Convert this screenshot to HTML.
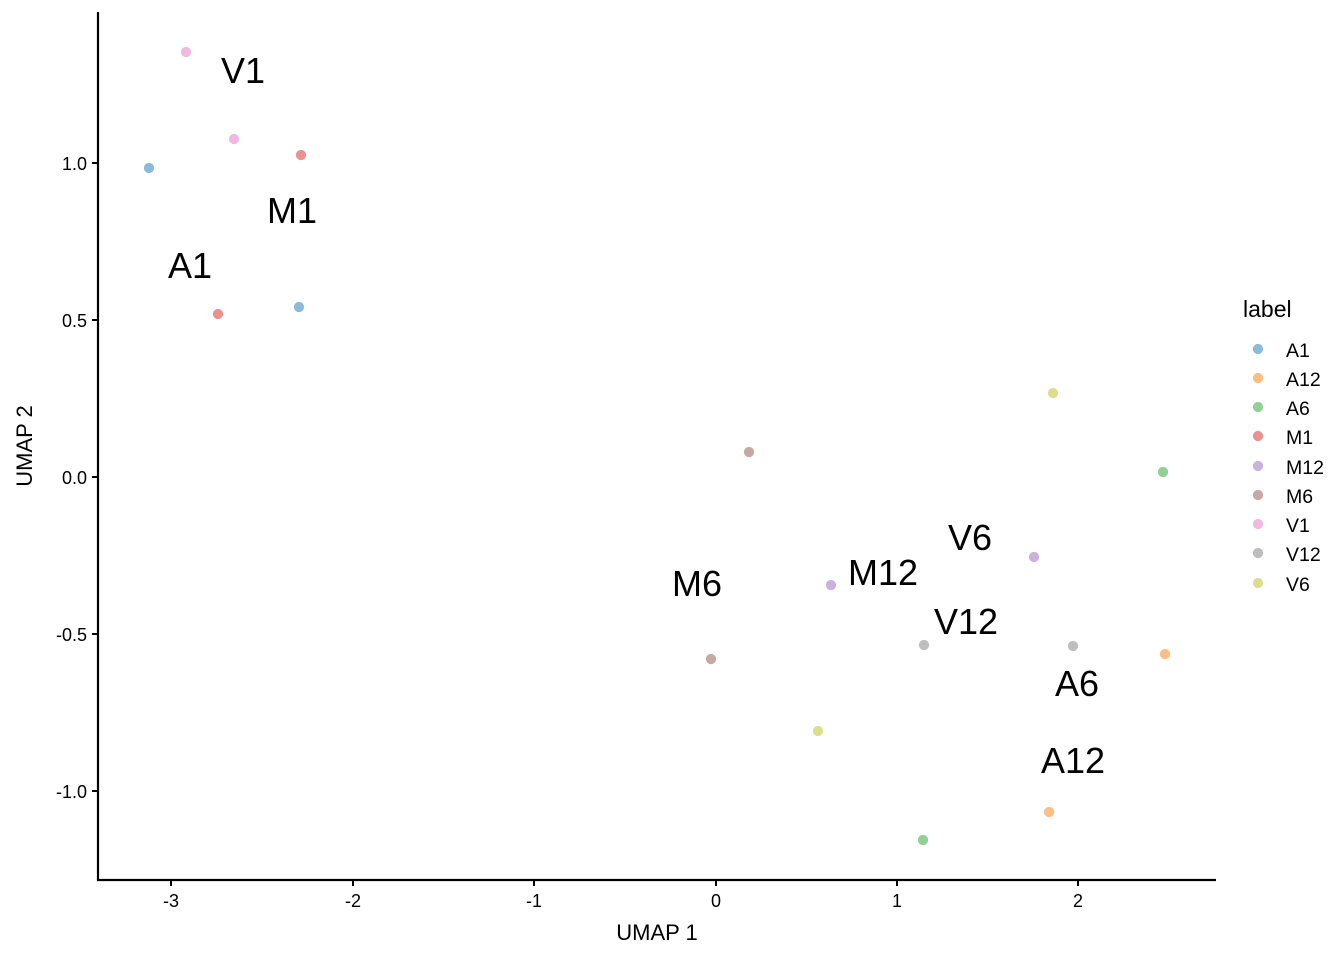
<!DOCTYPE html><html><head><style>body{margin:0;background:#fff}svg{font-family:"Liberation Sans",sans-serif}</style></head><body>
<svg width="1344" height="960" xmlns="http://www.w3.org/2000/svg">
<rect width="1344" height="960" fill="#fff"/>
<g stroke="#000" stroke-width="2.2" fill="none"><path d="M98,12V880H1216"/></g>
<g stroke="#000" stroke-width="2"><path d="M171,880v6M353,880v6M534,880v6M716,880v6M897,880v6M1078,880v6M92,163h6M92,320h6M92,477h6M92,634h6M92,791h6"/></g>
<g font-size="18" fill="#000" text-anchor="middle"><text x="171" y="907">-3</text><text x="353" y="907">-2</text><text x="534" y="907">-1</text><text x="716" y="907">0</text><text x="897" y="907">1</text><text x="1078" y="907">2</text></g>
<g font-size="18" fill="#000" text-anchor="end"><text x="87" y="170">1.0</text><text x="87" y="327">0.5</text><text x="87" y="484">0.0</text><text x="87" y="641">-0.5</text><text x="87" y="798">-1.0</text></g>
<text x="657" y="940" font-size="22" text-anchor="middle">UMAP 1</text>
<text transform="translate(32,446) rotate(-90)" font-size="22" text-anchor="middle">UMAP 2</text>
<g opacity="0.5" stroke-width="1.3">
<g stroke="#1f77b4"><circle cx="149" cy="168" r="4.5" fill="#1f77b4"/><circle cx="299" cy="307" r="4.5" fill="#1f77b4"/></g>
<g stroke="#ff7f0e"><circle cx="1049" cy="812" r="4.5" fill="#ff7f0e"/><circle cx="1165" cy="654" r="4.5" fill="#ff7f0e"/></g>
<g stroke="#2ca02c"><circle cx="923" cy="840" r="4.5" fill="#2ca02c"/><circle cx="1163" cy="472" r="4.5" fill="#2ca02c"/></g>
<g stroke="#d62728"><circle cx="301" cy="155" r="4.5" fill="#d62728"/><circle cx="218" cy="314" r="4.5" fill="#d62728"/></g>
<g stroke="#9467bd"><circle cx="831" cy="585" r="4.5" fill="#9467bd"/><circle cx="1034" cy="557" r="4.5" fill="#9467bd"/></g>
<g stroke="#8c564b"><circle cx="749" cy="452" r="4.5" fill="#8c564b"/><circle cx="711" cy="659" r="4.5" fill="#8c564b"/></g>
<g stroke="#e377c2"><circle cx="186" cy="52" r="4.5" fill="#e377c2"/><circle cx="234" cy="139" r="4.5" fill="#e377c2"/></g>
<g stroke="#7f7f7f"><circle cx="924" cy="645" r="4.5" fill="#7f7f7f"/><circle cx="1073" cy="646" r="4.5" fill="#7f7f7f"/></g>
<g stroke="#bcbd22"><circle cx="1053" cy="393" r="4.5" fill="#bcbd22"/><circle cx="818" cy="731" r="4.5" fill="#bcbd22"/></g>
</g>
<g font-size="36" fill="#000" text-anchor="middle">
<text x="243" y="83">V1</text><text x="292" y="223">M1</text><text x="190" y="278">A1</text>
<text x="970" y="550">V6</text><text x="883" y="585">M12</text><text x="697" y="596">M6</text>
<text x="966" y="634">V12</text><text x="1077" y="696">A6</text><text x="1073" y="773">A12</text>
</g>
<text x="1243" y="317" font-size="23">label</text>
<g opacity="0.5" stroke-width="1.3">
<circle cx="1258" cy="349" r="4.5" fill="#1f77b4" stroke="#1f77b4"/><circle cx="1258" cy="378" r="4.5" fill="#ff7f0e" stroke="#ff7f0e"/><circle cx="1258" cy="407" r="4.5" fill="#2ca02c" stroke="#2ca02c"/><circle cx="1258" cy="436" r="4.5" fill="#d62728" stroke="#d62728"/><circle cx="1258" cy="466" r="4.5" fill="#9467bd" stroke="#9467bd"/><circle cx="1258" cy="495" r="4.5" fill="#8c564b" stroke="#8c564b"/><circle cx="1258" cy="524" r="4.5" fill="#e377c2" stroke="#e377c2"/><circle cx="1258" cy="553" r="4.5" fill="#7f7f7f" stroke="#7f7f7f"/><circle cx="1258" cy="583" r="4.5" fill="#bcbd22" stroke="#bcbd22"/>
</g>
<g font-size="19.5"><text x="1286" y="357">A1</text><text x="1286" y="386">A12</text><text x="1286" y="415">A6</text><text x="1286" y="444">M1</text><text x="1286" y="474">M12</text><text x="1286" y="503">M6</text><text x="1286" y="532">V1</text><text x="1286" y="561">V12</text><text x="1286" y="591">V6</text></g>
</svg></body></html>
